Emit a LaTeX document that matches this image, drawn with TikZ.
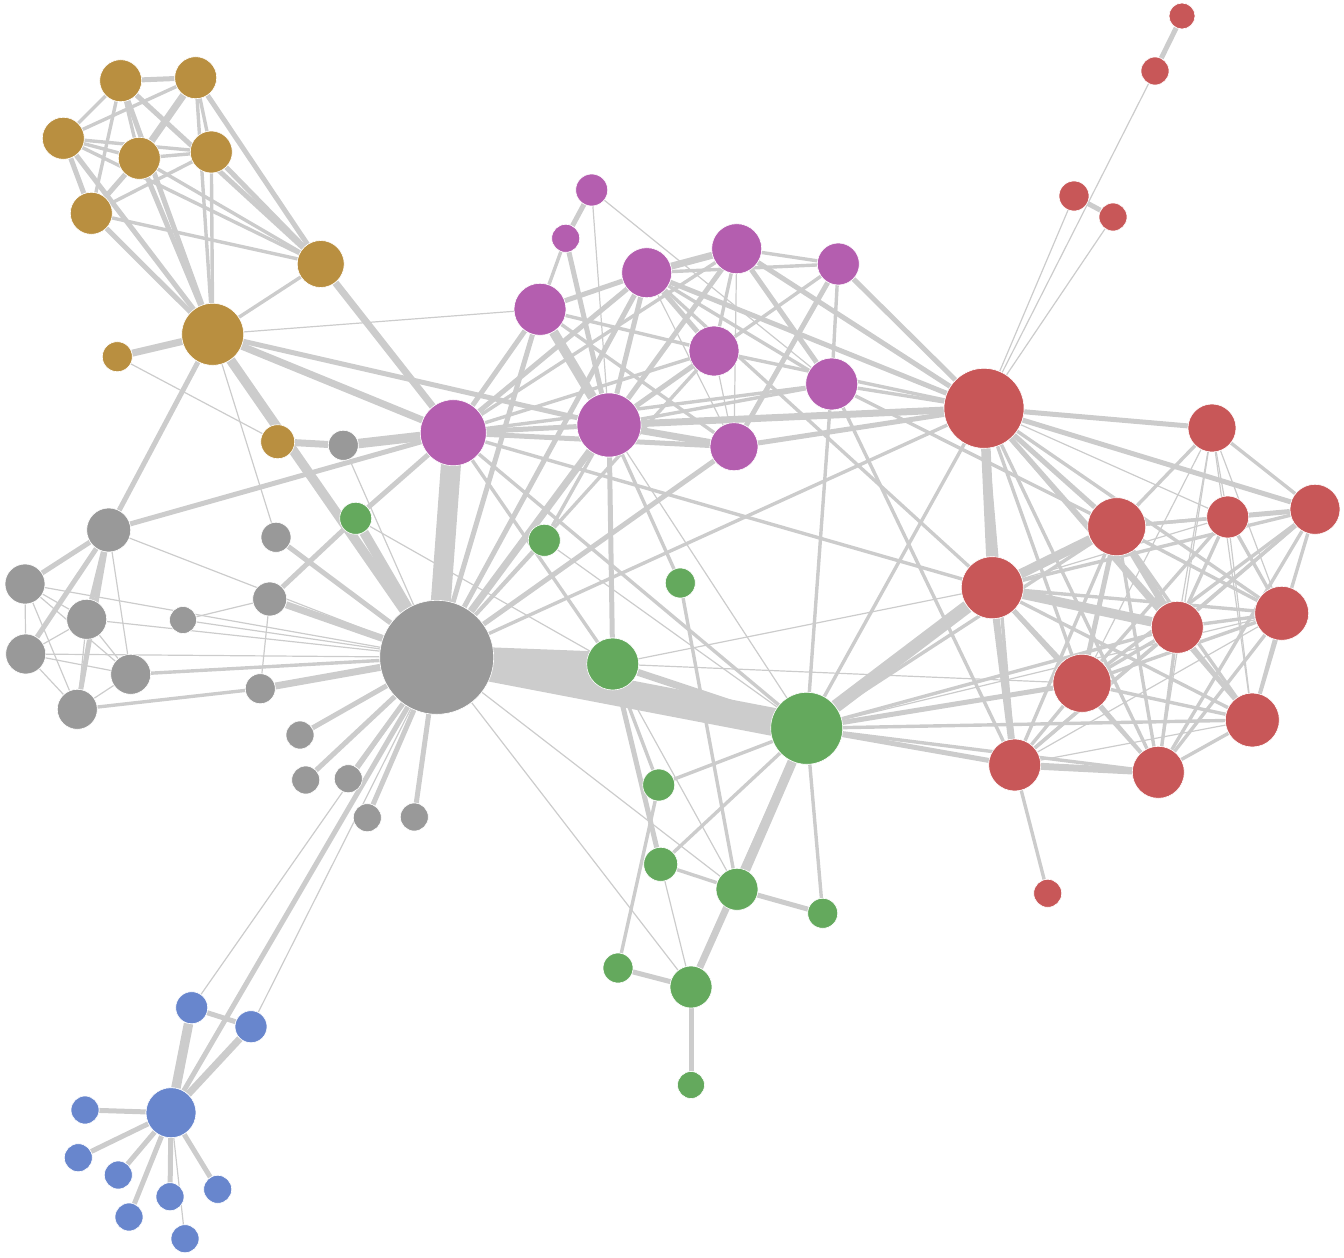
\documentclass[tikz,border=0pt]{standalone}
\definecolor{cyel}{HTML}{B98F40}
\definecolor{cpur}{HTML}{B45EAF}
\definecolor{cred}{HTML}{C85758}
\definecolor{cgrn}{HTML}{64A95D}
\definecolor{cgry}{HTML}{999999}
\definecolor{cblu}{HTML}{6886CD}
\definecolor{cedge}{HTML}{CCCCCC}
\pgfdeclarelayer{bg}
\pgfsetlayers{bg,main}
\tikzset{
  nd/.style={circle,inner sep=0pt,draw=white,line width=0.6pt},
  yel/.style={nd,fill=cyel}, pur/.style={nd,fill=cpur}, red/.style={nd,fill=cred},
  grn/.style={nd,fill=cgrn}, gry/.style={nd,fill=cgry}, blu/.style={nd,fill=cblu},
  ea/.style={draw=cedge,line width=1.2pt},
  eb/.style={draw=cedge,line width=3.4pt},
  ec/.style={draw=cedge,line width=5pt},
  ed/.style={draw=cedge,line width=7pt},
  ee/.style={draw=cedge,line width=9.5pt}
}
\begin{document}
\begin{tikzpicture}[x=1pt,y=-1pt]
\useasboundingbox (0,0) rectangle (1344,1258);
% yellow
\node[yel,minimum size=42pt] (Y1) at (120.7,80.7) {};
\node[yel,minimum size=42pt] (Y2) at (195.7,77.7) {};
\node[yel,minimum size=42pt] (Y3) at (63.3,138.3) {};
\node[yel,minimum size=42pt] (Y4) at (139.3,158.3) {};
\node[yel,minimum size=42pt] (Y5) at (211.3,152) {};
\node[yel,minimum size=42pt] (Y6) at (91.3,213.3) {};
\node[yel,minimum size=47pt] (Y7) at (320.7,264) {};
\node[yel,minimum size=62pt] (Y8) at (212.7,334.3) {};
\node[yel,minimum size=30pt] (Y9) at (117.3,356.7) {};
\node[yel,minimum size=34pt] (Y10) at (277.7,441.7) {};
% purple
\node[pur,minimum size=32pt] (P1) at (591.7,190) {};
\node[pur,minimum size=28pt] (P2) at (565.7,238.3) {};
\node[pur,minimum size=50pt] (P3) at (646.7,272.7) {};
\node[pur,minimum size=50pt] (P4) at (736.7,248.7) {};
\node[pur,minimum size=42pt] (P5) at (838.3,264) {};
\node[pur,minimum size=52pt] (P6) at (540,309.3) {};
\node[pur,minimum size=50pt] (P7) at (714,351) {};
\node[pur,minimum size=52pt] (P8) at (831.7,384) {};
\node[pur,minimum size=66pt] (P9) at (453.3,432.7) {};
\node[pur,minimum size=64pt] (P10) at (609,425) {};
\node[pur,minimum size=48pt] (P11) at (734,446.7) {};
% red
\node[red,minimum size=26pt] (R1) at (1182,16) {};
\node[red,minimum size=28pt] (R2) at (1155,71) {};
\node[red,minimum size=30pt] (R3) at (1074,196) {};
\node[red,minimum size=28pt] (R4) at (1113,217) {};
\node[red,minimum size=80pt] (R5) at (984,408.3) {};
\node[red,minimum size=48pt] (R6) at (1212,428) {};
\node[red,minimum size=50pt] (R7) at (1315,509.3) {};
\node[red,minimum size=58pt] (R8) at (1116.7,526.7) {};
\node[red,minimum size=42pt] (R9) at (1227.7,517) {};
\node[red,minimum size=62pt] (R10) at (992.3,587.7) {};
\node[red,minimum size=54pt] (R11) at (1281.7,613.3) {};
\node[red,minimum size=52pt] (R12) at (1177.3,627.3) {};
\node[red,minimum size=58pt] (R13) at (1082,683.3) {};
\node[red,minimum size=54pt] (R14) at (1252.3,720) {};
\node[red,minimum size=52pt] (R15) at (1014.7,765) {};
\node[red,minimum size=52pt] (R16) at (1158.3,772.3) {};
\node[red,minimum size=28pt] (R17) at (1047.7,893.3) {};
% green
\node[grn,minimum size=32pt] (G1) at (355.7,518.3) {};
\node[grn,minimum size=32pt] (G2) at (544.3,540.3) {};
\node[grn,minimum size=30pt] (G3) at (680.3,583) {};
\node[grn,minimum size=52pt] (G4) at (612.7,664) {};
\node[grn,minimum size=72pt] (G5) at (806.7,728.3) {};
\node[grn,minimum size=32pt] (G6) at (658.7,785) {};
\node[grn,minimum size=34pt] (G7) at (660.7,864.3) {};
\node[grn,minimum size=42pt] (G8) at (737,889.3) {};
\node[grn,minimum size=30pt] (G9) at (822.7,913.3) {};
\node[grn,minimum size=30pt] (G10) at (618,968) {};
\node[grn,minimum size=42pt] (G11) at (691,987) {};
\node[grn,minimum size=27pt] (G12) at (691,1085) {};
% gray
\node[gry,minimum size=114pt] (C0) at (436.7,657.3) {};
\node[gry,minimum size=30pt] (C1) at (343.3,445.3) {};
\node[gry,minimum size=30pt] (C2) at (276,537.3) {};
\node[gry,minimum size=44pt] (C3) at (108.7,530) {};
\node[gry,minimum size=40pt] (C4) at (25,584) {};
\node[gry,minimum size=40pt] (C5) at (86.7,619.3) {};
\node[gry,minimum size=27pt] (C6) at (183,620) {};
\node[gry,minimum size=34pt] (C7) at (269.7,599) {};
\node[gry,minimum size=40pt] (C8) at (25.7,654) {};
\node[gry,minimum size=40pt] (C9) at (130.7,674.3) {};
\node[gry,minimum size=40pt] (C10) at (77.3,709.3) {};
\node[gry,minimum size=30pt] (C11) at (260.3,688.7) {};
\node[gry,minimum size=28pt] (C12) at (300,735) {};
\node[gry,minimum size=28pt] (C13) at (305.7,780) {};
\node[gry,minimum size=28pt] (C14) at (348.3,778.7) {};
\node[gry,minimum size=28pt] (C15) at (367.3,817.7) {};
\node[gry,minimum size=28pt] (C16) at (414.3,817) {};
% blue
\node[blu,minimum size=32pt] (B1) at (191.7,1007.7) {};
\node[blu,minimum size=32pt] (B2) at (251,1026.7) {};
\node[blu,minimum size=50pt] (B3) at (171,1112.7) {};
\node[blu,minimum size=28pt] (B4) at (85,1110) {};
\node[blu,minimum size=28pt] (B5) at (78.3,1157.7) {};
\node[blu,minimum size=28pt] (B6) at (118.3,1175) {};
\node[blu,minimum size=28pt] (B7) at (170,1196.7) {};
\node[blu,minimum size=28pt] (B8) at (217.7,1189.3) {};
\node[blu,minimum size=28pt] (B9) at (129,1217) {};
\node[blu,minimum size=28pt] (B10) at (185,1238.7) {};

\begin{pgfonlayer}{bg}
% very thick
\draw[draw=cedge,line width=28pt] (C0.center) -- (G5.center);
\draw[draw=cedge,line width=24pt] (C0.center) -- (G4.center);
\draw[draw=cedge,line width=20pt] (C0.center) -- (P9.center);
% thin
\foreach \a/\b in {Y8/P6,Y8/C2,Y9/Y10,C1/C0,C3/C9,C3/C0,C4/C5,C4/C8,C4/C9,C4/C10,C4/C0,C5/C8,C5/C9,C5/C10,C5/C0,C8/C9,C8/C10,C8/C0,C9/C10,C6/C7,C6/C0,C7/C11,G1/G4,C0/B1,C0/B2,B3/B10,P1/P10,P1/P8,P3/P11,P4/P11,P5/P7,P7/P11,P10/G5,P10/G3,G4/G8,G4/R10,G4/R13,G7/G11,C0/G11,C0/G8,G5/R11,R2/R5,R3/R5,R4/R5,R5/R9,R6/R9,R6/R11,R6/R12,R6/R13,R6/R14,R6/R16,R9/R10,R9/R14,R11/R15,R14/R15,G2/G5}
  \draw[ea] (\a) -- (\b);
% medium
\foreach \a/\b in {Y1/Y3,Y1/Y4,Y1/Y6,Y2/Y3,Y2/Y5,Y2/Y8,Y3/Y4,Y3/Y5,Y3/Y7,Y4/Y5,Y4/Y7,Y5/Y6,Y5/Y8,Y6/Y7,Y7/Y8,C9/C0,C10/C11,P2/P6,P6/P7,P6/P11,P3/P5,P3/P8,P4/P5,P4/P7,P4/P9,P5/P8,P5/P10,P7/P9,P7/R5,P7/C0,P8/R5,P8/P10,P8/P9,P8/G5,P8/R8,P8/R15,P9/R10,P9/G4,P9/G5,P9/R5,P10/G2,P3/R10,G4/G6,G5/G6,G5/G7,G5/G9,G6/G10,G7/G8,G3/G8,G3/P10,G2/C0,G5/R5,G5/R8,G5/R12,G5/R14,G5/R16,C0/R5,R5/R11,R5/R13,R5/R14,R5/R15,R5/R16,R6/R7,R6/R8,R7/R8,R7/R10,R7/R12,R7/R13,R7/R14,R7/R15,R7/R16,R8/R9,R8/R11,R8/R14,R8/R15,R8/R16,R9/R11,R9/R12,R9/R13,R10/R11,R10/R14,R10/R16,R11/R12,R11/R13,R11/R14,R11/R16,R12/R13,R12/R14,R12/R15,R12/R16,R13/R14,R13/R15,R13/R16,R14/R16,R15/R17}
  \draw[eb] (\a) -- (\b);
% thick
\foreach \a/\b in {Y1/Y2,Y1/Y7,Y1/Y8,Y2/Y7,Y3/Y6,Y3/Y8,Y4/Y6,Y4/Y8,Y5/Y7,Y6/Y8,Y8/P10,Y8/C3,C3/P9,C3/C4,C3/C5,C3/C8,C3/C10,C7/G1,C2/C0,C12/C0,C13/C0,C14/C0,C15/C0,C16/C0,G1/P9,C0/B3,B1/B2,B3/B4,B3/B5,B3/B6,B3/B7,B3/B8,B3/B9,P1/P2,P2/P10,P6/P3,P6/P9,P6/C0,P3/P7,P3/P9,P3/P10,P3/R5,P3/C0,P4/P8,P4/P10,P4/R5,P5/P11,P5/R5,P7/P10,P9/P10,P9/P11,P10/G4,P11/R5,P11/C0,G4/G7,G8/G9,G10/G11,G11/G12,G5/R13,R1/R2,R3/R4,R5/R6,R5/R7,R5/R8,R5/R12,R7/R9,R8/R13,R10/R13,G5/R15}
  \draw[ec] (\a) -- (\b);
% very thick
\foreach \a/\b in {Y2/Y4,Y8/Y9,Y8/P9,Y7/P9,Y10/C1,C7/C0,C11/C0,B2/B3,P3/P4,P10/P11,P10/R5,P10/C0,G4/G5,G5/G11,R8/R12,R10/R15,R15/R16}
  \draw[ed] (\a) -- (\b);
\foreach \a/\b in {Y8/C0,C1/P9,G1/C0,B1/B3,P6/P10,G5/G8,R5/R10,R8/R10,R10/R12}
  \draw[ee] (\a) -- (\b);
\draw[draw=cedge,line width=13pt] (G5) -- (R10);
\end{pgfonlayer}
\end{tikzpicture}
\end{document}
